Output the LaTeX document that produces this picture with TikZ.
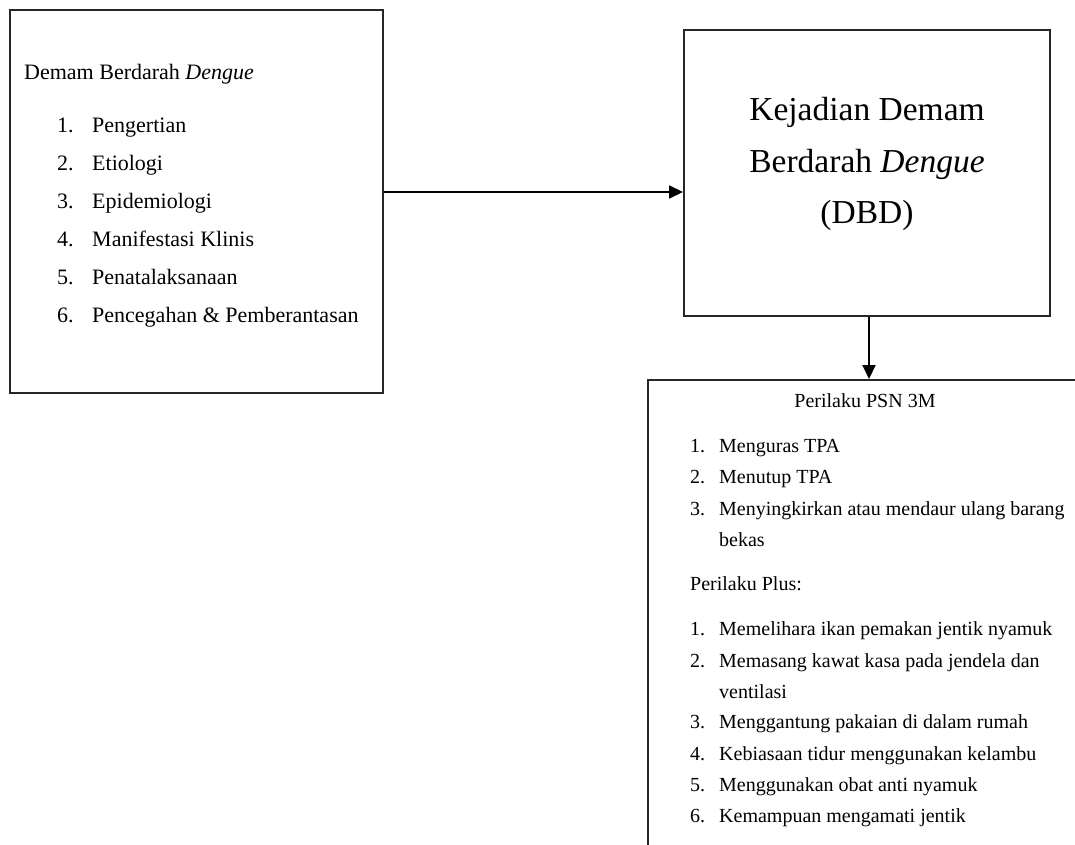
\documentclass[tikz,border=0pt]{standalone}
\usepackage{fontspec}
\setmainfont{Liberation Serif}
\usetikzlibrary{arrows.meta,positioning,calc}

\tikzset{
  frame/.style={draw=black!85, line width=1.6pt, inner sep=0pt},
  lbl/.style={anchor=base west, inner sep=0pt},
  ttl/.style={anchor=base, inner sep=0pt, font=\fontsize{33.5}{40}\selectfont},
  arr/.style={line width=2pt, -{Triangle[length=14pt,width=13pt]}},
}

\begin{document}
\begin{tikzpicture}[x=1pt,y=-1pt]
    \useasboundingbox (0,0) rectangle (1075,845);

    % Left box: materi DBD
    \node[frame, minimum width=373pt, minimum height=383pt] (materi) at (196.5,201.5) {};
    \node[lbl, font=\fontsize{22}{26}\selectfont] (materiTitle) at (24,80) {Demam Berdarah \textit{Dengue}};
    \begin{scope}[font=\fontsize{22}{26}\selectfont]
    \foreach \t [count=\i] in {Pengertian, Etiologi, Epidemiologi, Manifestasi Klinis,
        Penatalaksanaan, Pencegahan \& Pemberantasan} {
      \node[lbl] (mNum\i) at (57,{133+37.8*(\i-1)}) {\i.};
      \node[lbl] (mItem\i) at (92,{133+37.8*(\i-1)}) {\t};
    }
    \end{scope}

    % Top right box: kejadian DBD
    \node[frame, line width=2pt, minimum width=366pt, minimum height=286pt] (kejadian) at (867,173) {};
    \node[ttl] (kejA) at (867,121) {Kejadian Demam};
    \node[ttl] (kejB) at (867,172) {Berdarah \textit{Dengue}};
    \node[ttl] (kejC) at (867,223) {(DBD)};

    % Bottom right box: perilaku (cut off at the page edge)
    \draw[black!85, line width=1.4pt] (1075,380) -- (648,380) -- (648,845);
    \coordinate (psnTop) at (869,379);
    \begin{scope}[font=\fontsize{20}{24}\selectfont]
    \node[anchor=base, inner sep=0pt] (psnTitle) at (865,407) {Perilaku PSN 3M};
    \foreach \y/\t [count=\i] in {452/Menguras TPA, 483/Menutup TPA,
        515/Menyingkirkan atau mendaur ulang barang} {
      \node[lbl] (pNum\i) at (690,\y) {\i.};
      \node[lbl] (pItem\i) at (719,\y) {\t};
    }
    \node[lbl] (pItem3b) at (719,546) {bekas};
    \node[lbl] (plusTitle) at (690,590) {Perilaku Plus:};
    \foreach \y/\t [count=\i] in {635/Memelihara ikan pemakan jentik nyamuk,
        667/Memasang kawat kasa pada jendela dan, 728/Menggantung pakaian di dalam rumah,
        760/Kebiasaan tidur menggunakan kelambu, 791/Menggunakan obat anti nyamuk,
        822/Kemampuan mengamati jentik} {
      \node[lbl] (qNum\i) at (690,\y) {\i.};
      \node[lbl] (qItem\i) at (719,\y) {\t};
    }
    \node[lbl] (qItem2b) at (719,698) {ventilasi};
    \end{scope}

    % Connectors
    \draw[arr] (materi.east |- 0,192) -- (kejadian.west |- 0,192);
    \draw[arr] (kejadian.south -| psnTop) -- (psnTop);
\end{tikzpicture}
\end{document}
